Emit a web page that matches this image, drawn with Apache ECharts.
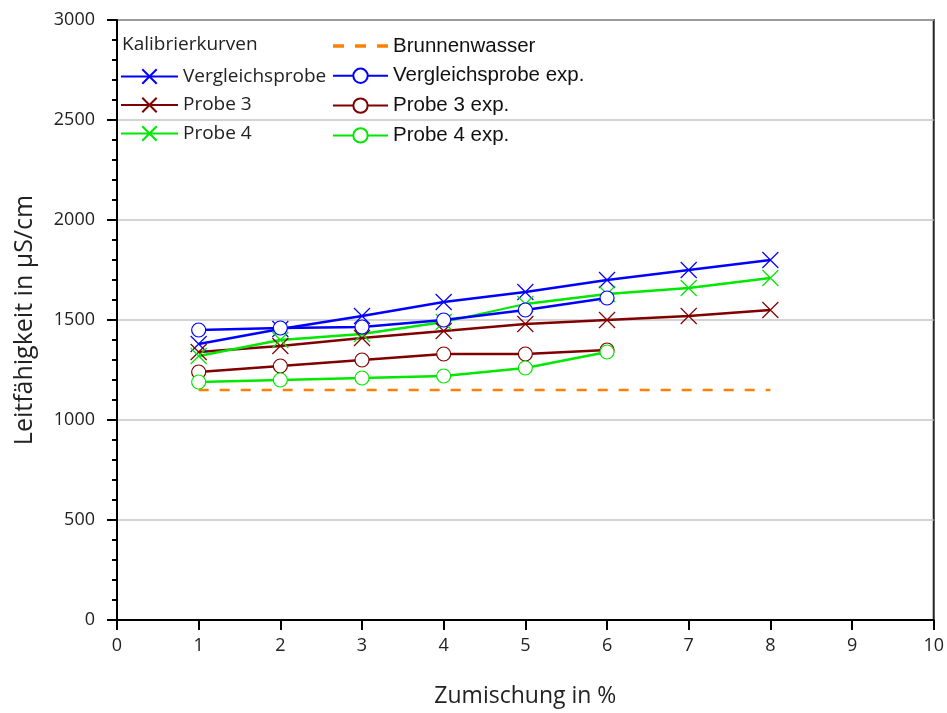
<!DOCTYPE html>
<html>
<head>
<meta charset="utf-8">
<script src="https://cdn.jsdelivr.net/npm/echarts@6/dist/echarts.min.js"></script>
<style>html,body{margin:0;padding:0;background:#fff}#c{width:947px;height:713px}</style>
</head>
<body>
<div id="c"></div>
<script>
const xCal = [1, 2, 3, 4, 5, 6, 7, 8];
const xExp = [1, 2, 3, 4, 5, 6];
const vergleich = [1380, 1455, 1520, 1590, 1640, 1700, 1750, 1800];
const probe3 = [1340, 1370, 1410, 1445, 1480, 1500, 1520, 1550];
const probe4 = [1320, 1400, 1430, 1490, 1580, 1630, 1660, 1710];
const vergleichExp = [1450, 1460, 1465, 1500, 1550, 1610];
const probe3Exp = [1240, 1270, 1300, 1330, 1330, 1350];
const probe4Exp = [1190, 1200, 1210, 1220, 1260, 1340];
const brunnen = [1150, 1150, 1150, 1150, 1150, 1150, 1150, 1150];
const xTicks = [0, 1, 2, 3, 4, 5, 6, 7, 8, 9, 10];
const yTicks = [0, 500, 1000, 1500, 2000, 2500, 3000];

const BLUE = '#0000ff', BROWN = '#800000', GREEN = '#00e800', ORANGE = '#ff8000';
const CROSS = 'path://M0,0L10,10M10,0L0,10';
const DASH_ICON = 'path://M0,0H10V3H0Z M20,0H30V3H20Z M40,0H50V3H40Z';
const pairs = (xs, ys) => xs.map((x, i) => [x, ys[i]]);

function calSeries(name, ys, color) {
  return {
    name, type: 'line', data: pairs(xCal, ys),
    symbol: CROSS, symbolSize: 16,
    lineStyle: { color, width: 2.3 },
    itemStyle: { color: 'none', borderColor: color, borderWidth: 1.2 },
    emphasis: { disabled: true }, z: 2
  };
}
function expSeries(name, ys, color) {
  return {
    name, type: 'line', data: pairs(xExp, ys),
    symbol: 'circle', symbolSize: 14,
    lineStyle: { color, width: 2.3 },
    itemStyle: { color: '#ffffff', borderColor: color, borderWidth: 1.2 },
    emphasis: { disabled: true }, z: 3
  };
}

const chart = echarts.init(document.getElementById('c'), null, { renderer: 'canvas' });
const labelFont = { fontFamily: 'Open Sans', fontSize: 18, color: '#222' };
chart.setOption({
  animation: false,
  backgroundColor: '#fff',
  grid: { left: 117, right: 13, top: 20, bottom: 91, show: true, borderColor: '#222', borderWidth: 2, backgroundColor: 'transparent' },
  xAxis: {
    type: 'value', min: xTicks[0], max: xTicks[xTicks.length - 1], interval: 1,
    name: 'Zumischung in %', nameLocation: 'middle', nameGap: 65,
    nameTextStyle: { fontFamily: 'Open Sans', fontSize: 23, color: '#222' },
    axisLine: { lineStyle: { color: '#000', width: 2 } },
    axisTick: { length: 10, lineStyle: { color: '#000', width: 2 } },
    axisLabel: Object.assign({ margin: 17, formatter: v => String(v) }, labelFont),
    splitLine: { show: false }
  },
  yAxis: {
    type: 'value', min: yTicks[0], max: yTicks[yTicks.length - 1], interval: 500,
    name: 'Leitfähigkeit in µS/cm', nameLocation: 'middle', nameGap: 80,
    nameTextStyle: { fontFamily: 'Open Sans', fontSize: 25, color: '#222' },
    axisLine: { lineStyle: { color: '#000', width: 2 } },
    axisTick: { length: 10, lineStyle: { color: '#000', width: 2 } },
    minorTick: { show: true, splitNumber: 5, length: 5, lineStyle: { color: '#000', width: 2 } },
    axisLabel: Object.assign({ margin: 22, formatter: v => String(v) }, labelFont),
    splitLine: { show: true, lineStyle: { color: '#c4c4c4', width: 1.5 } }
  },
  legend: [
    {
      data: ['Vergleichsprobe', 'Probe 3', 'Probe 4'],
      orient: 'vertical', left: 120, top: 66.5, padding: 0,
      itemWidth: 57, itemHeight: 18, itemGap: 8.5,
      textStyle: { fontFamily: 'Open Sans', fontSize: 19, color: '#222', lineHeight: 20 },
      selectedMode: false
    },
    {
      data: [
        { name: 'Brunnenwasser', icon: DASH_ICON },
        'Vergleichsprobe exp.', 'Probe 3 exp.', 'Probe 4 exp.'
      ],
      orient: 'vertical', left: 332, top: 35.5, padding: 0,
      itemWidth: 55, itemHeight: 18, itemGap: 8.8,
      textStyle: { fontFamily: 'Liberation Sans', fontSize: 20.5, color: '#111', lineHeight: 20 },
      selectedMode: false
    }
  ],
  graphic: [{
    type: 'text', left: 122, top: 35,
    style: { text: 'Kalibrierkurven', font: '19px "Open Sans"', fill: '#222' }
  }],
  series: [
    calSeries('Vergleichsprobe', vergleich, BLUE),
    calSeries('Probe 3', probe3, BROWN),
    calSeries('Probe 4', probe4, GREEN),
    {
      name: 'Brunnenwasser', type: 'line', data: pairs(xCal, brunnen), symbol: 'none',
      lineStyle: { color: ORANGE, width: 2.5, type: [10, 11] },
      itemStyle: { color: ORANGE },
      emphasis: { disabled: true }, z: 1
    },
    expSeries('Vergleichsprobe exp.', vergleichExp, BLUE),
    expSeries('Probe 3 exp.', probe3Exp, BROWN),
    expSeries('Probe 4 exp.', probe4Exp, GREEN)
  ]
});
</script>
</body>
</html>
